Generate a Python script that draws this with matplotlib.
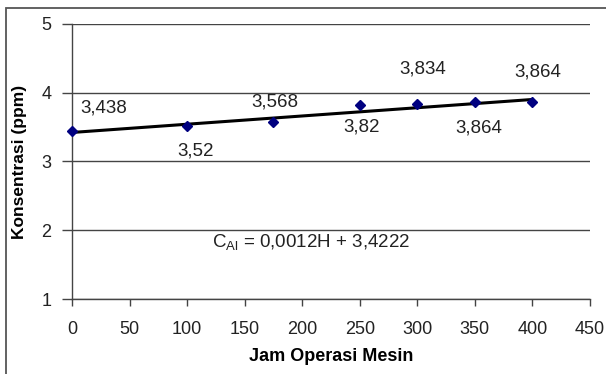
import matplotlib.pyplot as plt
from matplotlib.patches import Rectangle

plt.rcParams['font.family'] = ['Liberation Sans', 'DejaVu Sans']

# data
jam = [0, 100, 175, 250, 300, 350, 400]
konsentrasi = [3.438, 3.52, 3.568, 3.82, 3.834, 3.864, 3.864]
label_teks = ['3,438', '3,52', '3,568', '3,82', '3,834', '3,864', '3,864']
# label offsets (points) from each marker
label_off = [(23, 17), (6, -18), (1, 15), (1, -16), (4, 25), (3, -19), (4, 22)]
slope = 0.0012
intercept = 3.4222
trend_x = [0, 400]

fig = plt.figure(figsize=(6.06, 3.74), dpi=100)
ax = fig.add_axes([72 / 606, 1 - 299 / 374, 518 / 606, 275 / 374])

# outer frame
fig.patches.append(Rectangle((6 / 606, -0.05), 1.0, 1 - 8 / 374 + 0.05,
                             transform=fig.transFigure, fill=False,
                             edgecolor='#555555', linewidth=1.3))

trend_y = [slope * x + intercept for x in trend_x]
ax.plot(trend_x, trend_y, color='black', linewidth=2.2, zorder=3)
ax.plot(jam, konsentrasi, linestyle='none', marker='D', markersize=5.5,
        color='#000080', zorder=4, clip_on=False)

for x, y, t, off in zip(jam, konsentrasi, label_teks, label_off):
    ax.annotate(t, (x, y), xytext=off, textcoords='offset points',
                ha='center', va='center', fontsize=13.5, color='#222222')

ax.text(208, 1.81, r'C$_\mathregular{Al}$ = 0,0012H + 3,4222', ha='center',
        va='center', fontsize=13.5, color='#222222')

ax.set_xlim(0, 450)
ax.set_ylim(1, 5)
ax.set_xticks(range(0, 451, 50))
ax.set_yticks([1, 2, 3, 4, 5])
ax.yaxis.grid(True, color='#444444', linewidth=1.0)
ax.set_axisbelow(True)
for s in ['top', 'right']:
    ax.spines[s].set_visible(False)
for s in ['left', 'bottom']:
    ax.spines[s].set_color('#444444')
    ax.spines[s].set_linewidth(1.0)
ax.tick_params(axis='x', direction='out', length=5, width=1, color='#444444',
               labelsize=13, pad=11, labelcolor='#222222')
ax.tick_params(axis='y', direction='out', length=7, width=1, color='#444444',
               labelsize=13, pad=8, labelcolor='#222222')

ax.set_xlabel('Jam Operasi Mesin', fontsize=13, fontweight='bold', labelpad=7)
ax.set_ylabel('Konsentrasi (ppm)', fontsize=12.5, fontweight='bold', labelpad=10)

fig.savefig('out.png', dpi=100)
